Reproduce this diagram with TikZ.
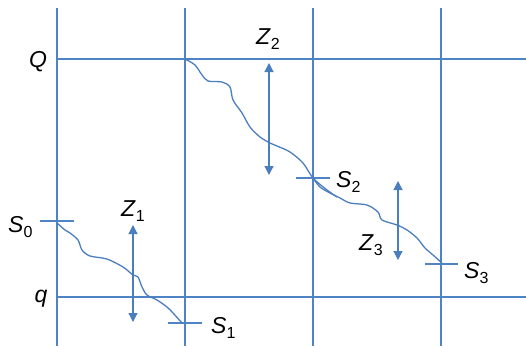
\documentclass[tikz,border=0pt]{standalone}
\usepackage{fontspec}
\setmainfont{Liberation Sans}
\usetikzlibrary{arrows.meta}
\definecolor{gridblue}{HTML}{4F84C4}
\definecolor{curveblue}{HTML}{4A7EBF}
\newcommand\lab[2]{\textit{#1}\raisebox{-5pt}{\fontsize{16}{16}\selectfont #2}}
\begin{document}
\begin{tikzpicture}[x=1pt,y=-1pt,
  gridline/.style={draw=gridblue,line width=1.05pt},
  tickline/.style={draw=gridblue,line width=1.05pt},
  path/.style={draw=curveblue,line width=1.3pt,line join=round},
  dblarrow/.style={draw=curveblue,line width=1.2pt,{Triangle[width=9pt,length=9pt]}-{Triangle[width=9pt,length=9pt]}},
  lbl/.style={inner sep=0pt,font=\fontsize{23}{23}\selectfont}]
\useasboundingbox (0,0) rectangle (526,346);
% grid
\foreach \n/\x in {a/57,b/185,c/313,d/441}{
  \coordinate (\n t) at (\x,8);
  \coordinate (\n b) at (\x,346);
  \draw[gridline] (\n t) -- (\n b);
}
\coordinate (Qs) at (57,59); \coordinate (Qe) at (526,59);
\coordinate (qs) at (57,297); \coordinate (qe) at (526,297);
\draw[gridline] (Qs) -- (Qe);
\draw[gridline] (qs) -- (qe);
% ticks
\coordinate (s0l) at (40,221); \coordinate (s0r) at (74,221);
\coordinate (s1l) at (168,323); \coordinate (s1r) at (202,323);
\coordinate (s2l) at (296,178); \coordinate (s2r) at (330,178);
\coordinate (s3l) at (425,264); \coordinate (s3r) at (458,264);
\draw[tickline] (s0l) -- (s0r);
\draw[tickline] (s1l) -- (s1r);
\draw[tickline] (s2l) -- (s2r);
\draw[tickline] (s3l) -- (s3r);
% curves
\draw[path] plot[smooth,tension=0.5] coordinates {(57,223) (65,230) (70,233) (78,240) (82,250) (90,256) (107,259) (123,267) (133,275) (138,277) (142,287) (147,295) (157,300) (167,307) (173,313) (182,323)};
\draw[path] plot[smooth,tension=0.5] coordinates {(185,59) (195,65) (202,75) (208,81) (222,82) (230,87) (233,100) (242,113) (250,127) (260,137) (270,143) (277,146) (290,152) (303,163) (313,178) (327,190) (337,197)};
\draw[path] plot[smooth,tension=0.5] coordinates {(313,178) (320,187) (330,193) (340,198) (350,203) (367,205) (378,212) (382,220) (397,225) (407,230) (417,238) (425,248) (433,255) (442,263)};
% arrows
\coordinate (z1t) at (133,225); \coordinate (z1b) at (133,322);
\coordinate (z2t) at (269,63); \coordinate (z2b) at (269,175);
\coordinate (z3t) at (398,181); \coordinate (z3b) at (398,260);
\draw[dblarrow] (z1t) -- (z1b);
\draw[dblarrow] (z2t) -- (z2b);
\draw[dblarrow] (z3t) -- (z3b);
% labels
\node[lbl,anchor=base] (Q) at (38,67) {\textit{Q}};
\node[lbl,anchor=base] (q) at (41,302) {\textit{q}};
\node[lbl,anchor=base west] (S0) at (8,232) {\lab{S}{0}};
\node[lbl,anchor=base west] (S1) at (211,333) {\lab{S}{1}};
\node[lbl,anchor=base west] (S2) at (336,187) {\lab{S}{2}};
\node[lbl,anchor=base west] (S3) at (464,278) {\lab{S}{3}};
\node[lbl,anchor=base west] (Z1) at (121,216) {\lab{Z}{1}};
\node[lbl,anchor=base west] (Z2) at (256,44) {\lab{Z}{2}};
\node[lbl,anchor=base west] (Z3) at (359,250) {\lab{Z}{3}};
\end{tikzpicture}
\end{document}
